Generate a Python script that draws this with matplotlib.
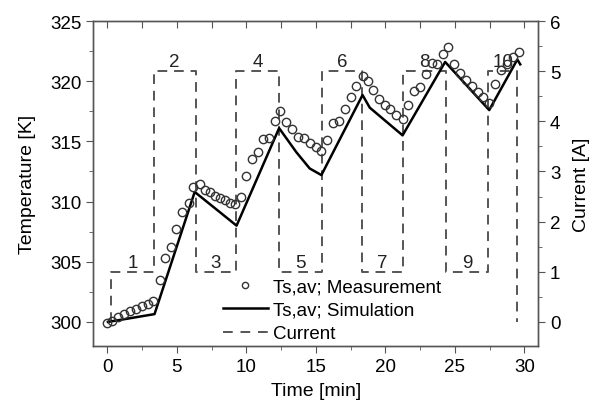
#!/usr/bin/env python3

import matplotlib
matplotlib.use("Agg")
import matplotlib.pyplot as plt
from matplotlib.lines import Line2D
from matplotlib.ticker import MultipleLocator

plt.rcParams["font.family"] = ["Liberation Sans", "DejaVu Sans"]

# measured surface temperature (time [min], T [K])
meas_t = [0.0, 0.33, 0.77, 1.2, 1.63, 2.06, 2.49, 2.93, 3.31, 3.79, 4.17, 4.56,
          4.94, 5.37, 5.85, 6.19, 6.65, 7.0, 7.37, 7.73, 8.09, 8.45, 8.8, 9.16,
          9.6, 10.0, 10.44, 10.84, 11.2, 11.63, 12.05, 12.45, 12.89, 13.32, 13.72,
          14.13, 14.56, 15.0, 15.4, 15.81, 16.24, 16.67, 17.08, 17.5, 17.88, 18.36,
          18.76, 19.12, 19.56, 19.96, 20.37, 20.8, 21.24, 21.64, 22.05, 22.48,
          22.92, 23.33, 23.73, 24.12, 24.52, 24.93, 25.36, 25.8, 26.2, 26.64,
          27.04, 27.47, 27.88, 28.3, 28.74, 29.17, 29.6]
meas_T = [299.9, 300.1, 300.4, 300.65, 300.9, 301.1, 301.3, 301.5, 301.7, 303.5,
          305.3, 306.2, 307.7, 309.1, 309.9, 311.2, 311.45, 311.0, 310.8, 310.5,
          310.3, 310.1, 309.9, 309.8, 310.4, 312.1, 313.5, 314.1, 315.2, 315.3,
          316.7, 317.5, 316.6, 316.0, 315.4, 315.3, 314.9, 314.5, 314.2, 315.1,
          316.5, 316.7, 317.7, 318.7, 319.6, 320.45, 320.0, 319.3, 318.5, 318.0,
          317.7, 317.2, 316.9, 318.0, 319.2, 319.5, 320.6, 321.5, 321.4, 322.25,
          322.8, 321.4, 320.7, 320.1, 319.6, 319.1, 318.7, 318.2, 319.8, 320.9,
          321.4, 322.0, 322.4]

# simulated surface temperature
sim_t = [0.05, 3.4, 6.29, 9.3, 12.36, 13.6, 14.56, 15.4, 18.36, 18.88, 21.24,
         24.3, 27.47, 29.49, 29.7]
sim_T = [300.0, 300.65, 310.8, 308.0, 316.1, 314.1, 312.75, 312.2, 318.85,
         317.8, 315.5, 321.6, 317.6, 321.8, 321.4]

# current profile (steps-post)
cur_t = [0.29, 0.29, 3.33, 6.36, 9.28, 12.36, 15.45, 18.33, 21.24, 24.33, 27.4, 29.49]
cur_a = [0, 1, 5, 1, 5, 1, 5, 1, 5, 1, 5, 0]
step_labels = ["1", "2", "3", "4", "5", "6", "7", "8", "9", "10"]

fs = 13.5
gray = "#555555"
dash = (0, (5, 3.5))

fig = plt.figure(figsize=(5.96, 4.06), dpi=100)
ax = fig.add_axes([0.1566, 0.1453, 0.7466, 0.8005])
ax2 = ax.twinx()
ax.set_zorder(ax2.get_zorder() + 1)
ax.patch.set_visible(False)

ax2.plot(cur_t, cur_a, drawstyle="steps-post", color=gray, lw=1.4, linestyle=dash)
for i, lab in enumerate(step_labels):
    mid = (cur_t[i + 1] + cur_t[i + 2]) / 2
    ax2.text(mid, cur_a[i + 1] + 0.02, lab, ha="center", va="bottom",
             fontsize=fs, color="#222222")

ax.plot(sim_t, sim_T, color="black", lw=1.8, zorder=2)
ax.plot(meas_t, meas_T, linestyle="none", marker="o", ms=6.0, mfc="none",
        mec="#333333", mew=1.0, zorder=3)

ax.set_xlim(-1, 31)
ax.set_ylim(298, 325)
ax2.set_ylim(-0.48, 6)

ax.xaxis.set_major_locator(MultipleLocator(5))
ax.xaxis.set_minor_locator(MultipleLocator(2.5))
ax.yaxis.set_major_locator(MultipleLocator(5))
ax.yaxis.set_minor_locator(MultipleLocator(2.5))
ax2.yaxis.set_major_locator(MultipleLocator(1))
ax2.yaxis.set_minor_locator(MultipleLocator(0.5))

ax.tick_params(axis="both", which="major", labelsize=fs, length=5, color=gray)
ax.tick_params(axis="both", which="minor", length=3, color=gray)
ax2.tick_params(axis="y", which="major", labelsize=fs, length=5, color=gray)
ax2.tick_params(axis="y", which="minor", length=3, color=gray)

# inward ticks along the top edge
top = ax.secondary_xaxis("top")
top.xaxis.set_major_locator(MultipleLocator(2.5))
top.tick_params(direction="in", length=5, labeltop=False, color=gray)
top.spines["top"].set_visible(False)

for a in (ax, ax2):
    for s in a.spines.values():
        s.set_color(gray)
        s.set_linewidth(1.0)

ax.set_xlabel("Time [min]", fontsize=fs + 0.5, labelpad=5)
ax.set_ylabel("Temperature [K]", fontsize=fs + 0.5, labelpad=10)
ax2.set_ylabel("Current [A]", fontsize=fs + 0.5, labelpad=9)

handles = [
    Line2D([], [], linestyle="none", marker="o", ms=4.5, mfc="none", mec="#333333"),
    Line2D([], [], color="black", lw=1.8),
    Line2D([], [], color=gray, lw=1.4, linestyle=(0, (5, 4))),
]
ax.legend(handles, ["Ts,av; Measurement", "Ts,av; Simulation", "Current"],
          loc="lower left", bbox_to_anchor=(0.291, 0.012), frameon=False,
          fontsize=fs, handlelength=2.4, labelspacing=0.34, handletextpad=0.27,
          borderpad=0.0, borderaxespad=0.0)

fig.savefig("out.png", dpi=100)
